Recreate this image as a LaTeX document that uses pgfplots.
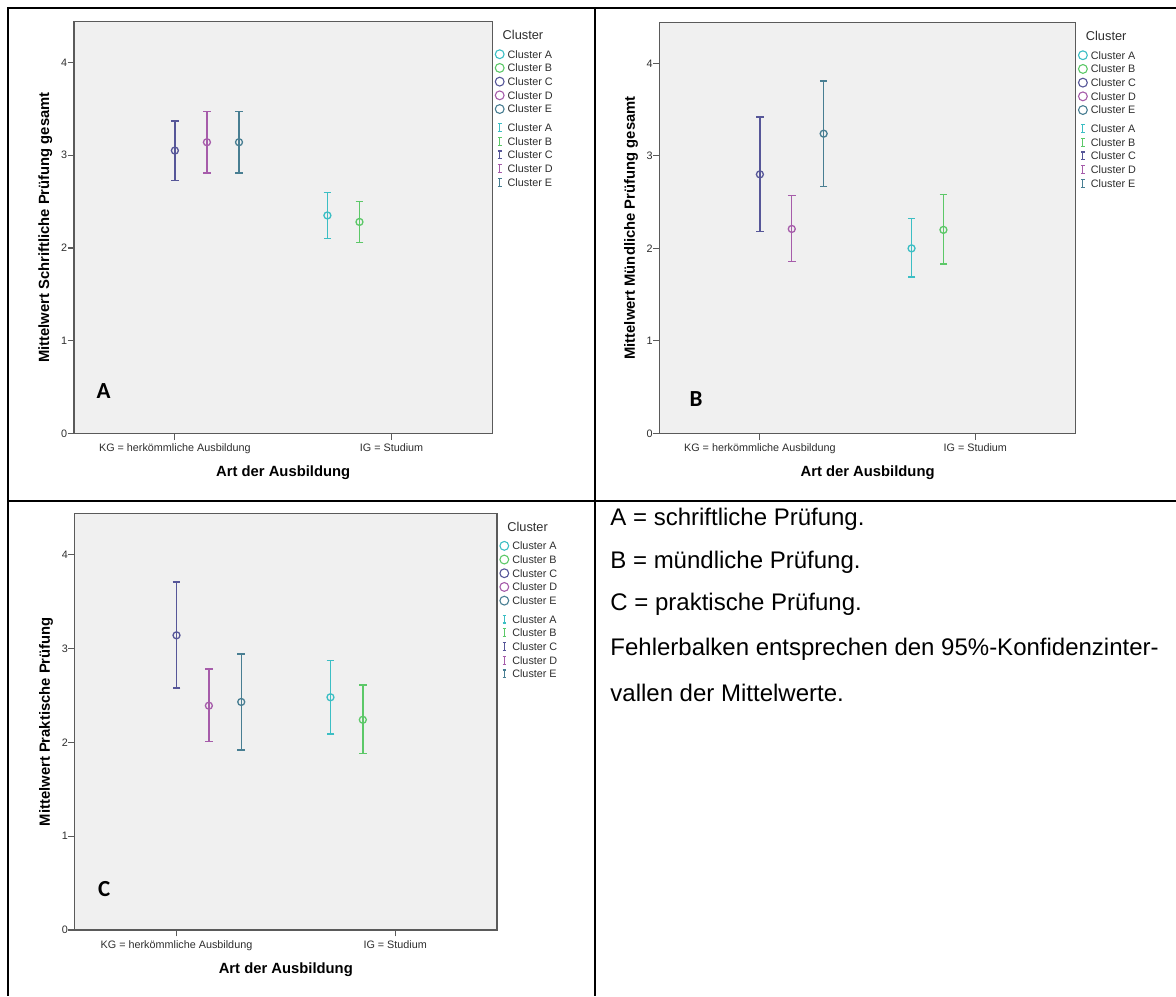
\documentclass[border=0pt]{standalone}
\usepackage{fontspec}
\setmainfont{Liberation Sans}
\newfontfamily\calibrifont{Carlito}
\usepackage{pgfplots}
\pgfplotsset{compat=1.18}

\definecolor{bgc}{RGB}{240,240,240}
\definecolor{framec}{RGB}{90,90,90}
\definecolor{tickc}{RGB}{45,45,45}
\definecolor{cA}{RGB}{60,190,196}
\definecolor{cB}{RGB}{92,200,104}
\definecolor{cC}{RGB}{86,86,152}
\definecolor{cD}{RGB}{166,92,170}
\definecolor{cE}{RGB}{72,126,146}

\newcommand{\ticksize}{\fontsize{5.4}{6.5}\selectfont}

\pgfplotsset{
  panel/.style={
    anchor=north west, scale only axis,
    xmin=0.534, xmax=2.466, ymin=0, ymax=4.44,
    xtick={1,2}, xticklabels={{KG = herkömmliche Ausbildung},{IG = Studium}},
    ytick={0,1,2,3,4},
    /pgf/number format/assume math mode=true,
    axis background/.style={fill=bgc},
    axis line style={draw=framec, line width=0.7pt},
    tick style={draw=framec, line width=0.6pt},
    tick align=outside, major tick length=3.2pt,
    xtick pos=left, ytick pos=left,
    tick label style={font=\ticksize, text=tickc},
    xticklabel style={anchor=north, inner sep=0pt, yshift=-2pt},
    yticklabel style={anchor=east, inner sep=0pt},
    legend style={at={(1,1)}, anchor=north west, xshift=1pt, yshift=-4.27pt,
      draw=none, fill=none, inner sep=0pt, outer sep=0pt,
      row sep=1.75pt, column sep=1.4pt,
      font=\ticksize, text=tickc,
      nodes={inner sep=0pt, text depth=}, cells={anchor=base west}},
  },
  % one mean with its 95% interval
  errpt/.style={forget plot, color=#1, only marks, mark=o, mark size=1.75pt,
    mark options={line width=0.65pt, fill=none, draw=#1},
    error bars/.cd, y dir=both, y explicit,
    error bar style={line width=0.7pt, draw=#1},
    error mark options={rotate=90, line width=0.7pt, mark size=1.9pt, draw=#1}},
  lgcirc/.style={legend image code/.code={%
    \path[draw=none, fill=none] (-2.6pt,-0.6pt) rectangle (2.6pt,4.5pt);
    \draw[draw=#1, fill=none, line width=0.55pt] (0pt,1.93pt) circle (2.2pt);}},
  lgbar/.style={legend image code/.code={%
    \path[draw=none, fill=none] (-2.6pt,-0.6pt) rectangle (2.6pt,4.5pt);
    \draw[draw=#1, line width=0.55pt] (0pt,0pt) -- (0pt,3.9pt)
      (-0.9pt,0pt) -- (0.9pt,0pt) (-0.9pt,3.9pt) -- (0.9pt,3.9pt);}},
}

\newcommand{\clusterlegend}{%
  \addlegendimage{empty legend}
  \addlegendentry{\hspace*{-2.5pt}\fontsize{6.4}{7}\selectfont Cluster\rule[-3.04pt]{0pt}{0pt}}
  \addlegendimage{lgcirc=cA}\addlegendentry{Cluster A}
  \addlegendimage{lgcirc=cB}\addlegendentry{Cluster B}
  \addlegendimage{lgcirc=cC}\addlegendentry{Cluster C}
  \addlegendimage{lgcirc=cD}\addlegendentry{Cluster D}
  \addlegendimage{lgcirc=cE}\addlegendentry{Cluster E\rule[-3.0pt]{0pt}{0pt}}
  \addlegendimage{lgbar=cA}\addlegendentry{Cluster A}
  \addlegendimage{lgbar=cB}\addlegendentry{Cluster B}
  \addlegendimage{lgbar=cC}\addlegendentry{Cluster C}
  \addlegendimage{lgbar=cD}\addlegendentry{Cluster D}
  \addlegendimage{lgbar=cE}\addlegendentry{Cluster E}
}

\begin{document}
\begin{tikzpicture}
\path[use as bounding box] (0,0) rectangle (588pt,-498pt);

% table rules
\draw[line width=1pt] (3.5pt,-4pt) -- (588pt,-4pt);
\draw[line width=1pt] (4pt,-3.5pt) -- (4pt,-498pt);
\draw[line width=1pt] (297.35pt,-3.5pt) -- (297.35pt,-498pt);
\draw[line width=1pt] (3.5pt,-250.65pt) -- (588pt,-250.65pt);

% A: written exam
\begin{axis}[panel, at={(36.95pt,-10.85pt)}, width=209.3pt, height=205.8pt]
\addplot[errpt=cC] coordinates {(1.000,3.05) += (0,0.32) -= (0,0.32)};
\addplot[errpt=cD] coordinates {(1.148,3.14) += (0,0.33) -= (0,0.33)};
\addplot[errpt=cE] coordinates {(1.296,3.14) += (0,0.33) -= (0,0.33)};
\addplot[errpt=cA] coordinates {(1.704,2.35) += (0,0.25) -= (0,0.25)};
\addplot[errpt=cB] coordinates {(1.852,2.28) += (0,0.22) -= (0,0.22)};
\clusterlegend
\end{axis}

% B: oral exam
\begin{axis}[panel, at={(329.75pt,-11.35pt)}, width=208.1pt, height=205.3pt]
\addplot[errpt=cC] coordinates {(1.000,2.80) += (0,0.62) -= (0,0.62)};
\addplot[errpt=cD] coordinates {(1.148,2.21) += (0,0.36) -= (0,0.35)};
\addplot[errpt=cE] coordinates {(1.296,3.24) += (0,0.57) -= (0,0.57)};
\addplot[errpt=cA] coordinates {(1.704,2.00) += (0,0.32) -= (0,0.31)};
\addplot[errpt=cB] coordinates {(1.852,2.20) += (0,0.38) -= (0,0.37)};
\clusterlegend
\end{axis}

% C: practical exam
\begin{axis}[panel, at={(37.3pt,-256.65pt)}, width=211.25pt, height=208.35pt]
\addplot[errpt=cC] coordinates {(1.000,3.14) += (0,0.57) -= (0,0.56)};
\addplot[errpt=cD] coordinates {(1.148,2.39) += (0,0.39) -= (0,0.38)};
\addplot[errpt=cE] coordinates {(1.296,2.43) += (0,0.51) -= (0,0.51)};
\addplot[errpt=cA] coordinates {(1.704,2.48) += (0,0.39) -= (0,0.39)};
\addplot[errpt=cB] coordinates {(1.852,2.24) += (0,0.37) -= (0,0.36)};
\clusterlegend
\end{axis}

% axis titles
\begin{scope}[every node/.style={inner sep=0pt, font=\bfseries\fontsize{7.4}{8.5}\selectfont}]
\node[rotate=90, anchor=base] at (24.6pt,-113.75pt) {Mittelwert Schriftliche Prüfung gesamt};
\node[rotate=90, anchor=base] at (317.4pt,-114pt) {Mittelwert Mündliche Prüfung gesamt};
\node[rotate=90, anchor=base] at (24.95pt,-360.8pt) {Mittelwert Praktische Prüfung};
\node[anchor=base] at (141.6pt,-238.15pt) {Art der Ausbildung};
\node[anchor=base] at (433.8pt,-238.15pt) {Art der Ausbildung};
\node[anchor=base] at (142.9pt,-486.8pt) {Art der Ausbildung};
\end{scope}

% panel letters
\begin{scope}[every node/.style={inner sep=0pt, font=\calibrifont\bfseries\fontsize{11.5}{13}\selectfont}]
\node at (51.75pt,-195.5pt) {A};
\node at (348pt,-199.75pt) {B};
\node at (52.15pt,-444.75pt) {C};
\end{scope}

% notes
\begin{scope}[every node/.style={inner sep=0pt, anchor=base west, font=\fontsize{12}{14}\selectfont}]
\node at (305pt,-262.6pt) {A = schriftliche Prüfung.};
\node at (305pt,-284.1pt) {B = mündliche Prüfung.};
\node at (305pt,-305.35pt) {C = praktische Prüfung.};
\node at (305pt,-327.6pt) {Fehlerbalken entsprechen den 95\%-Konfidenzinter-};
\node at (305pt,-350.6pt) {vallen der Mittelwerte.};
\end{scope}
\end{tikzpicture}
\end{document}
